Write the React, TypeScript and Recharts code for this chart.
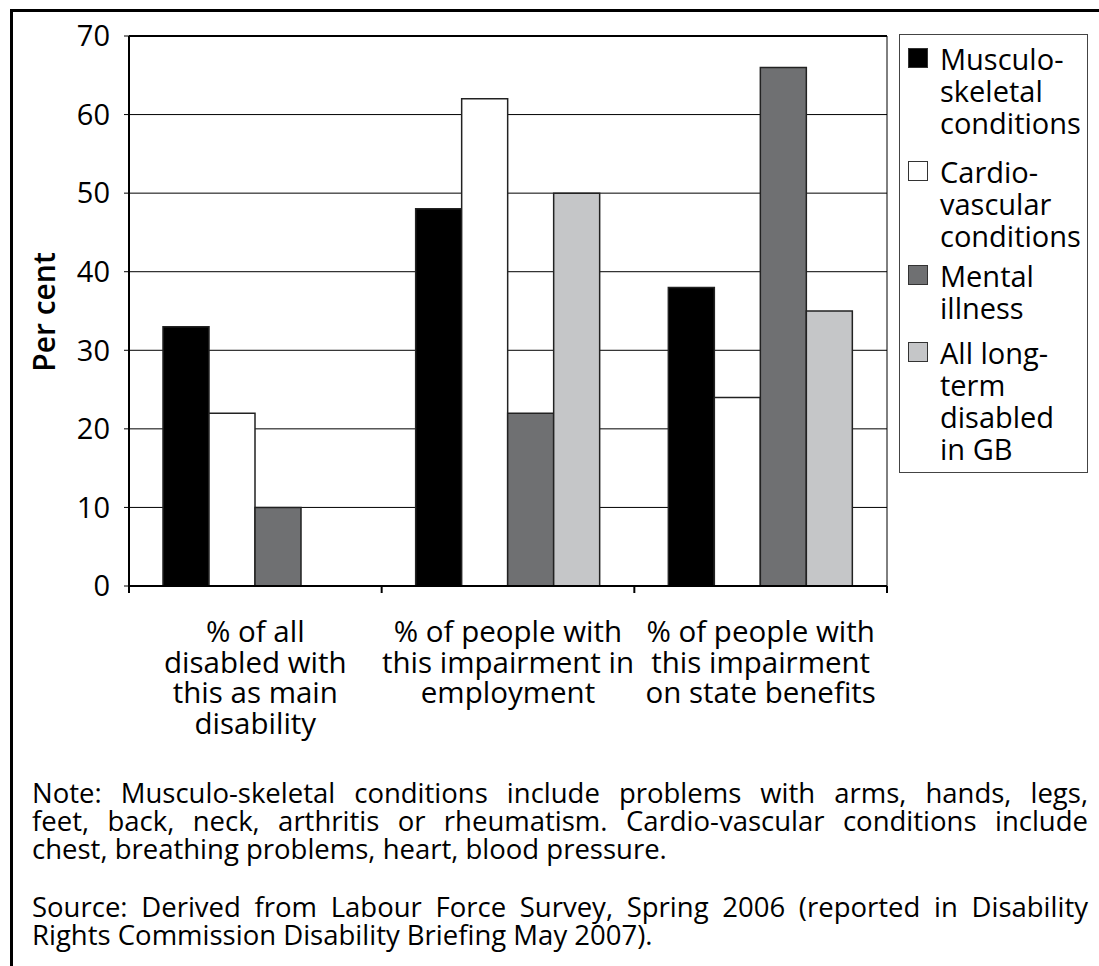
import React from "react";
import { BarChart, Bar, XAxis, YAxis, CartesianGrid, ReferenceLine, Legend } from "recharts";

// ─── Data ────────────────────────────────────────────────────────
const CATEGORIES = [
  "% of all disabled with this as main disability",
  "% of people with this impairment in employment",
  "% of people with this impairment on state benefits",
];
const CATEGORY_LINES: string[][] = [
  ["% of all", "disabled with", "this as main", "disability"],
  ["% of people with", "this impairment in", "employment"],
  ["% of people with", "this impairment", "on state benefits"],
];
const MUSCULO = [33, 48, 38];
const CARDIO = [22, 62, 24];
const MENTAL = [10, 22, 66];
const ALL_LONG_TERM: (number | null)[] = [null, 50, 35];
const Y_TICKS = [0, 10, 20, 30, 40, 50, 60, 70];

const SERIES = [
  { key: "musculo", name: "Musculo-skeletal conditions", lines: ["Musculo-", "skeletal", "conditions"], fill: "#000000", gap: 17 },
  { key: "cardio", name: "Cardio-vascular conditions", lines: ["Cardio-", "vascular", "conditions"], fill: "#ffffff", gap: 8 },
  { key: "mental", name: "Mental illness", lines: ["Mental", "illness"], fill: "#6f7072", gap: 13 },
  { key: "allLt", name: "All long-term disabled in GB", lines: ["All long-", "term", "disabled", "in GB"], fill: "#c5c6c8", gap: 0 },
];

const NOTE_LINES = [
  "Note: Musculo-skeletal conditions include problems with arms, hands, legs,",
  "feet, back, neck, arthritis or rheumatism. Cardio-vascular conditions include",
  "chest, breathing problems, heart, blood pressure.",
];
const SOURCE_LINES = [
  "Source: Derived from Labour Force Survey, Spring 2006 (reported in Disability",
  "Rights Commission Disability Briefing May 2007).",
];

const data = CATEGORIES.map((c, i) => ({
  category: c,
  musculo: MUSCULO[i],
  cardio: CARDIO[i],
  mental: MENTAL[i],
  allLt: ALL_LONG_TERM[i],
}));

// ─── Layout ──────────────────────────────────────────────────────
const FONT = '"Open Sans", "Noto Sans", sans-serif';
const CHART_W = 1099;
const CHART_H = 770;
const MARGIN = { top: 36, right: 212, left: 69, bottom: 44 };
const Y_AXIS_W = 60;
const X_AXIS_H = 140;
const PLOT_W = CHART_W - MARGIN.left - Y_AXIS_W - MARGIN.right;
const HALF_BAND = PLOT_W / CATEGORIES.length / 2;

function CategoryTick(props: any) {
  const { x, y, index } = props;
  const lines = CATEGORY_LINES[index] ?? [];
  const last = index === CATEGORIES.length - 1;
  return (
    <g>
      <line x1={x - HALF_BAND} x2={x - HALF_BAND} y1={y} y2={y + 7} stroke="#000" strokeWidth={2} />
      {last && <line x1={x + HALF_BAND} x2={x + HALF_BAND} y1={y} y2={y + 7} stroke="#000" strokeWidth={2} />}
      {lines.map((l, i) => (
        <text key={i} x={x} y={y + 56 + i * 30.5} textAnchor="middle" fontSize={29.5} fontFamily={FONT} fill="#000">
          {l}
        </text>
      ))}
    </g>
  );
}

function LegendBox() {
  return (
    <div
      style={{
        position: "absolute",
        left: 899,
        top: 34,
        width: 189,
        height: 439,
        border: "1.5px solid #444",
        fontFamily: FONT,
        fontSize: 29,
        lineHeight: "32px",
        color: "#000",
        boxSizing: "border-box",
        paddingTop: 8,
      }}
    >
      {SERIES.map((s) => (
        <div key={s.key} style={{ position: "relative", paddingLeft: 40, marginBottom: s.gap }}>
          <span
            style={{
              position: "absolute",
              left: 8,
              top: 5,
              width: 18,
              height: 18,
              background: s.fill,
              border: "1px solid #333",
            }}
          />
          {s.lines.map((l, i) => (
            <div key={i} style={{ whiteSpace: "nowrap" }}>
              {l}
            </div>
          ))}
        </div>
      ))}
    </div>
  );
}

function JustifiedLines({ lines, top }: { lines: string[]; top: number }) {
  return (
    <div style={{ position: "absolute", left: 32, top, width: 1056, fontSize: 27.5, lineHeight: "28px", color: "#000" }}>
      {lines.map((l, i) => (
        <div
          key={i}
          style={{
            whiteSpace: "nowrap",
            textAlign: "justify",
            textAlignLast: i === lines.length - 1 ? "left" : "justify",
          }}
        >
          {l}
        </div>
      ))}
    </div>
  );
}

export default function App() {
  return (
    <div style={{ position: "absolute", left: 0, top: 0, width: 1099, height: 966, background: "#fff", fontFamily: FONT }}>
      {/* outer frame: top and left rules only */}
      <div
        style={{
          position: "absolute",
          left: 10,
          top: 9,
          right: 0,
          bottom: 0,
          borderTop: "3px solid #000",
          borderLeft: "3px solid #000",
        }}
      />

      <div style={{ position: "absolute", left: 0, top: 0 }}>
        <BarChart
          width={CHART_W}
          height={CHART_H}
          data={data}
          margin={MARGIN}
          barGap={0}
          barCategoryGap={34}
        >
          <CartesianGrid
            vertical={true}
            horizontal={true}
            stroke="#000"
            strokeWidth={1}
            verticalCoordinatesGenerator={({ offset }: any) => [offset.left + offset.width]}
          />
          <ReferenceLine y={70} stroke="#000" strokeWidth={2} />
          <XAxis
            dataKey="category"
            height={X_AXIS_H}
            interval={0}
            tickLine={false}
            tickSize={0}
            tickMargin={0}
            axisLine={{ stroke: "#000", strokeWidth: 2 }}
            tick={<CategoryTick />}
          />
          <YAxis
            width={Y_AXIS_W}
            domain={[0, 70]}
            ticks={Y_TICKS}
            interval={0}
            tickSize={5}
            tickMargin={14}
            axisLine={{ stroke: "#000", strokeWidth: 2 }}
            tickLine={{ stroke: "#000", strokeWidth: 1 }}
            tick={{ fill: "#000", fontSize: 29, fontFamily: FONT }}
          />
          <Legend content={() => null} />
          {SERIES.map((s) => (
            <Bar
              key={s.key}
              dataKey={s.key}
              name={s.name}
              fill={s.fill}
              stroke="#222"
              strokeWidth={1.5}
              isAnimationActive={false}
            />
          ))}
        </BarChart>
      </div>

      {/* y-axis title */}
      <div
        style={{
          position: "absolute",
          left: 44,
          top: 312,
          transform: "translate(-50%, -50%) rotate(-90deg)",
          fontSize: 30,
          lineHeight: "32px",
          fontWeight: 600,
          whiteSpace: "nowrap",
          color: "#000",
        }}
      >
        Per cent
      </div>

      <LegendBox />

      <JustifiedLines lines={NOTE_LINES} top={779} />
      <JustifiedLines lines={SOURCE_LINES} top={893} />
    </div>
  );
}
